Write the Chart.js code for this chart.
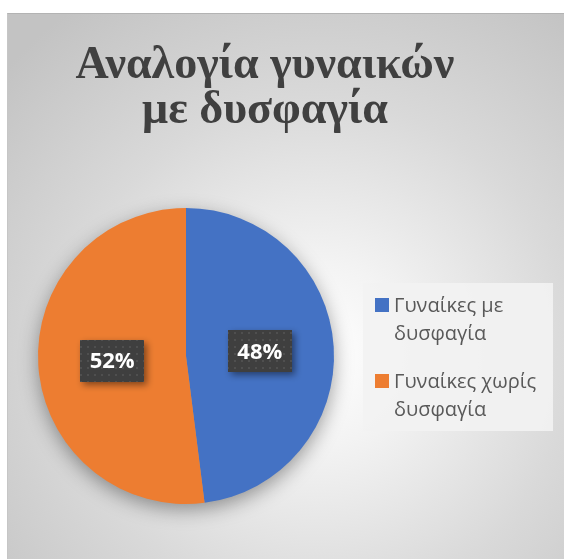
<!DOCTYPE html>
<html>
<head>
<meta charset="utf-8">
<script src="https://cdn.jsdelivr.net/npm/chart.js@4.4.1/dist/chart.umd.min.js"></script>
<style>
  html, body { margin: 0; padding: 0; background: #ffffff; overflow: hidden; }
  #frame {
    position: absolute; left: 7px; top: 13px; width: 580px; height: 570px;
    border-top: 1px solid #b3b3b3; border-left: 1px solid #c6c6c6;
    background: radial-gradient(circle at 310px 340px, #ffffff 0%, #f3f3f3 20%, #d9d9d9 55%, #c3c3c3 92%);
  }
  #wrap { position: absolute; left: 0; top: 0; width: 564px; height: 559px; }
</style>
</head>
<body>
<div id="frame"></div>
<div id="wrap"><canvas id="chart" width="564" height="559"></canvas></div>
<script>
const titleLines = ['Αναλογία γυναικών', 'με δυσφαγία'];
const categories = ['Γυναίκες με δυσφαγία', 'Γυναίκες χωρίς δυσφαγία'];
const legendLines = [['Γυναίκες με', 'δυσφαγία'], ['Γυναίκες χωρίς', 'δυσφαγία']];
const shares = [48, 52];
const sliceColors = ['#4472C4', '#ED7D31'];

// dotted dark fill for the percentage boxes
function dotPattern(ctx) {
  const c = document.createElement('canvas');
  c.width = 7; c.height = 7;
  const p = c.getContext('2d');
  p.fillStyle = '#3f3f3f';
  p.fillRect(0, 0, 7, 7);
  p.fillStyle = '#4f4f4f';
  p.fillRect(3, 3, 2, 2);
  return ctx.createPattern(c, 'repeat');
}

// soft shadow under the whole pie
const pieShadow = {
  id: 'pieShadow',
  beforeDatasetsDraw(chart) {
    const arc = chart.getDatasetMeta(0).data[0];
    if (!arc) return;
    const ctx = chart.ctx;
    ctx.save();
    ctx.shadowColor = 'rgba(0,0,0,0.4)';
    ctx.shadowBlur = 20;
    ctx.shadowOffsetY = 6;
    ctx.fillStyle = '#999';
    ctx.beginPath();
    ctx.arc(arc.x, arc.y, arc.outerRadius - 1, 0, Math.PI * 2);
    ctx.fill();
    ctx.restore();
  }
};

// percentage labels in dark boxes
const sliceLabels = {
  id: 'sliceLabels',
  afterDatasetsDraw(chart) {
    const ctx = chart.ctx;
    const pattern = dotPattern(ctx);
    chart.getDatasetMeta(0).data.forEach((arc, i) => {
      const pos = arc.tooltipPosition();
      const w = 64, h = 42;
      const x = Math.round(pos.x - w / 2), y = Math.round(pos.y - h / 2);
      ctx.save();
      ctx.shadowColor = 'rgba(0,0,0,0.45)';
      ctx.shadowBlur = 7;
      ctx.shadowOffsetX = 3;
      ctx.shadowOffsetY = 3;
      ctx.fillStyle = pattern;
      ctx.fillRect(x, y, w, h);
      ctx.restore();
      ctx.save();
      ctx.fillStyle = '#ffffff';
      ctx.font = 'bold 22px "Open Sans", "Noto Sans", sans-serif';
      ctx.textAlign = 'center';
      ctx.textBaseline = 'middle';
      ctx.fillText(shares[i] + '%', pos.x, pos.y + 1);
      ctx.restore();
    });
  }
};

// two-line title and the boxed legend on the right
const decorations = {
  id: 'decorations',
  afterDraw(chart) {
    const ctx = chart.ctx;
    ctx.save();
    ctx.fillStyle = '#404040';
    ctx.font = 'bold 46px "Liberation Serif", "Times New Roman", serif';
    ctx.textAlign = 'center';
    ctx.textBaseline = 'alphabetic';
    titleLines.forEach((line, i) => ctx.fillText(line, 265, 78 + i * 45));

    ctx.fillStyle = 'rgba(242,242,242,0.92)';
    ctx.fillRect(363, 283, 190, 148);

    const meta = chart.getDatasetMeta(0);
    ctx.font = '20px "Open Sans", "Noto Sans", sans-serif';
    ctx.textAlign = 'left';
    legendLines.forEach((lines, i) => {
      const top = 298 + i * 76;
      ctx.fillStyle = meta.data[i].options.backgroundColor;
      ctx.fillRect(375, top, 14, 14);
      ctx.fillStyle = '#595959';
      lines.forEach((t, j) => ctx.fillText(t, 394, top + 14 + j * 28));
    });
    ctx.restore();
  }
};

new Chart(document.getElementById('chart'), {
  type: 'pie',
  data: {
    labels: categories,
    datasets: [{
      data: shares,
      backgroundColor: sliceColors,
      borderWidth: 0
    }]
  },
  options: {
    responsive: false,
    animation: false,
    layout: { padding: { left: 38, top: 208, right: 230, bottom: 55 } },
    plugins: {
      legend: { display: false },
      title: { display: false },
      tooltip: { enabled: false }
    }
  },
  plugins: [pieShadow, sliceLabels, decorations]
});
</script>
</body>
</html>
